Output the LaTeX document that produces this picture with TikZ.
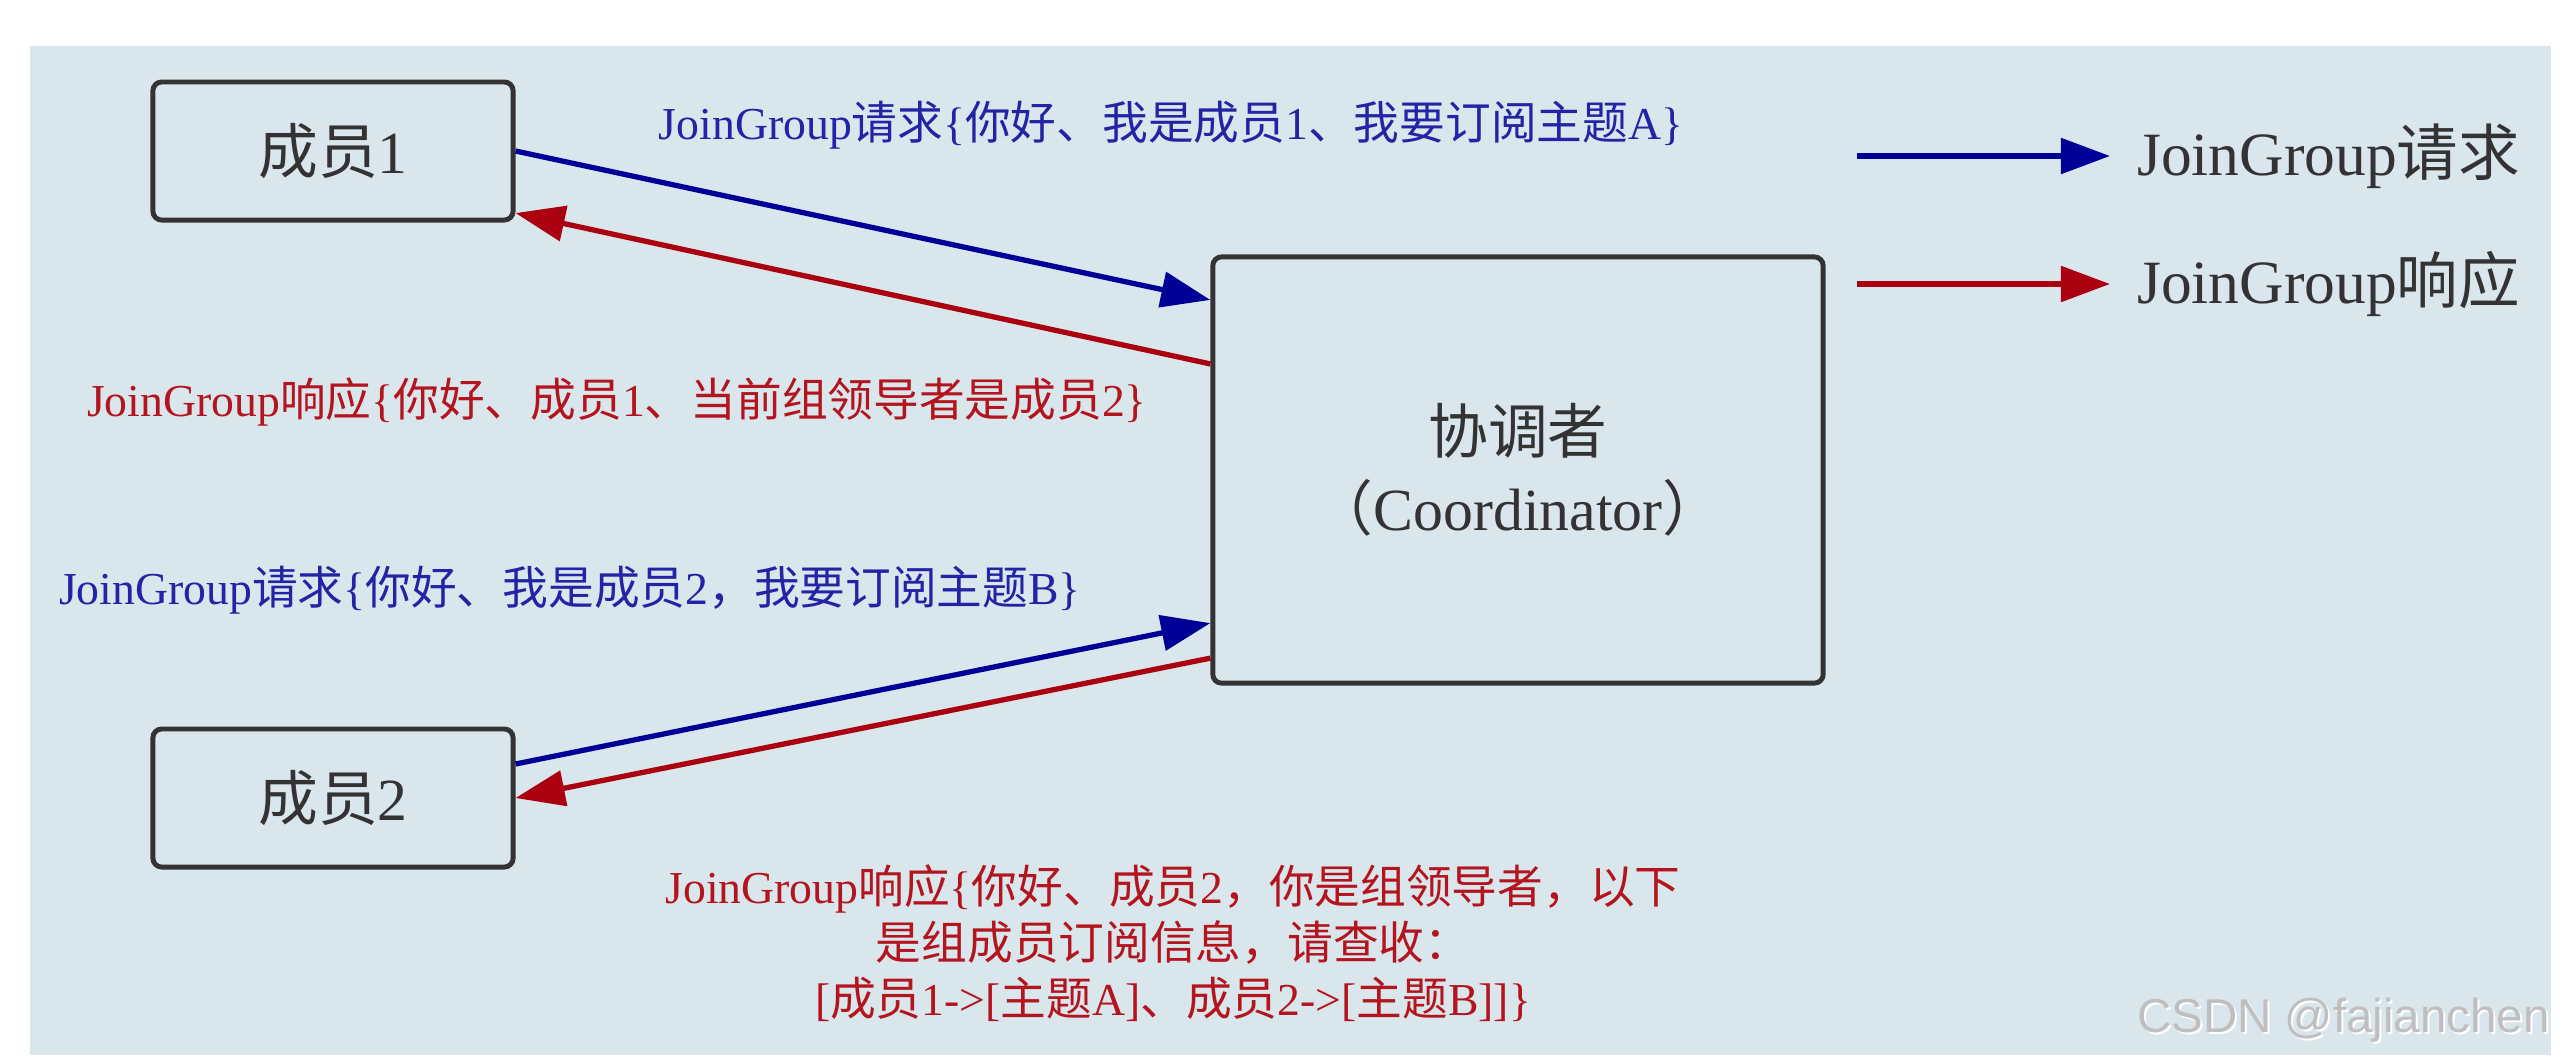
\documentclass[tikz,border=0pt]{standalone}
\usepackage{fontspec}
\setmainfont{Liberation Serif}
\newfontfamily\cjk{Noto Sans CJK SC}
\newfontfamily\wmfont{Liberation Sans}
\usetikzlibrary{arrows.meta, positioning}
\definecolor{bgblue}{RGB}{217,230,236}
\definecolor{boxgray}{RGB}{51,51,51}
\definecolor{reqblue}{RGB}{0,0,150}
\definecolor{reqtext}{RGB}{35,35,165}
\definecolor{resred}{RGB}{170,0,15}
\definecolor{restext}{RGB}{180,20,30}
\newcommand{\zh}[1]{{\cjk #1}}

\begin{document}
\begin{tikzpicture}[
    x=0.01cm, y=-0.01cm,
    member/.style={
        draw=boxgray,
        fill=bgblue,
        line width=1.4pt,
        rounded corners=2.5pt,
        minimum width=3.6cm,
        minimum height=1.38cm,
        text=boxgray,
        font=\fontsize{17}{20}\selectfont
    },
    coordbox/.style={
        member,
        minimum width=6.1cm,
        minimum height=4.26cm,
        align=center,
        font=\fontsize{17}{22}\selectfont
    },
    msg/.style={
        align=center,
        inner sep=2pt,
        font=\fontsize{13}{16}\selectfont
    },
    keylabel/.style={
        text=boxgray,
        inner xsep=7.5pt,
        font=\fontsize{17.5}{20}\selectfont
    },
    reqarrow/.style={
        -{Triangle[length=14pt, width=10pt]},
        line width=1.5pt,
        reqblue
    },
    resarrow/.style={
        -{Triangle[length=14pt, width=10pt]},
        line width=1.5pt,
        resred
    }
]

\useasboundingbox (0,0) rectangle (2572,1062);
\fill[white] (0,0) rectangle (2572,1062);
\fill[bgblue] (30,46) rectangle (2551,1055);

% Nodes (members and coordinator)
\node[member] (m1) at (333,151) {\zh{成员}1};
\node[member] (m2) at (333,798) {\zh{成员}2};
\node[coordbox] (coord) at (1518,470) {\zh{协调者}\\ \zh{（}Coordinator\zh{）}};

% Requests and responses
\draw[reqarrow] (m1.east) -- ([yshift=1.70cm]coord.west);
\draw[resarrow] ([yshift=1.06cm]coord.west) -- ([yshift=-0.62cm]m1.east);
\draw[reqarrow] ([yshift=0.34cm]m2.east) -- ([yshift=-1.53cm]coord.west);
\draw[resarrow] ([yshift=-1.88cm]coord.west) -- (m2.east);

% Message labels
\node[msg, text=reqtext] (req1) at (1171,125)
    {JoinGroup\zh{请求}\{\zh{你好、我是成员}1\zh{、我要订阅主题}A\}};
\node[msg, text=restext] (res1) at (617,402)
    {JoinGroup\zh{响应}\{\zh{你好、成员}1\zh{、当前组领导者是成员}2\}};
\node[msg, text=reqtext] (req2) at (570,590)
    {JoinGroup\zh{请求}\{\zh{你好、我是成员}2\zh{，我要订阅主题}B\}};
\node[msg, text=restext] (res2) at (1173,943)
    {JoinGroup\zh{响应}\{\zh{你好、成员}2\zh{，你是组领导者，以下}\\
     \zh{是组成员订阅信息，请查收：}\\
     {[}\zh{成员}1->[\zh{主题}A]\zh{、成员}2->[\zh{主题}B]]\}};

% Legend
\coordinate (reqkey) at (1857,156);
\coordinate (reskey) at (1857,284);
\node[keylabel, anchor=west] (reqname) at (2110,156) {JoinGroup\zh{请求}};
\node[keylabel, anchor=west] (resname) at (2110,284) {JoinGroup\zh{响应}};
\draw[reqarrow] (reqkey) -- (reqname.west);
\draw[resarrow] (reskey) -- (resname.west);

% Watermark
\node[anchor=east, text=white, font=\wmfont\fontsize{13.5}{16}\selectfont] (wmshadow) at (2564,1022) {CSDN @fajianchen};
\node[anchor=east, text=black!25, font=\wmfont\fontsize{13.5}{16}\selectfont] (wm) at (2562,1020) {CSDN @fajianchen};

\end{tikzpicture}
\end{document}
